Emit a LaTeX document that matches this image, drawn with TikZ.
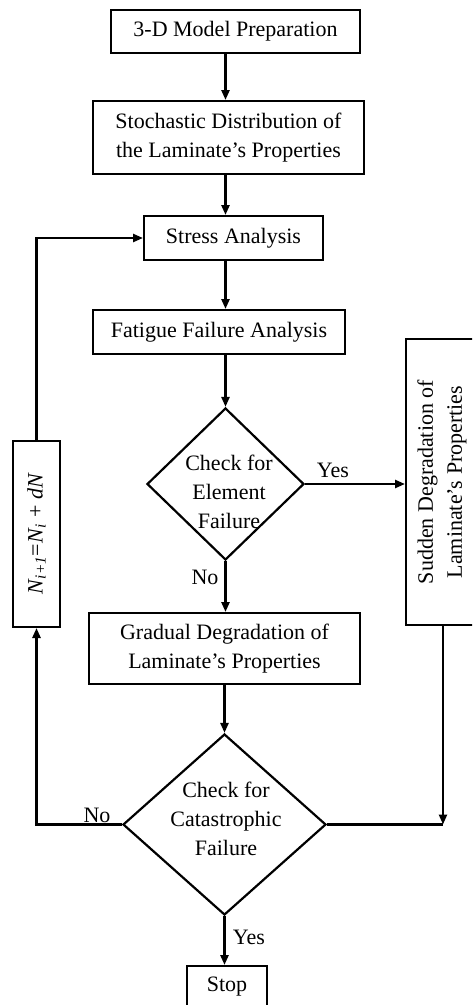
\documentclass[tikz,border=0pt]{standalone}
\usepackage{fontspec}
\setmainfont{Liberation Serif}
\usetikzlibrary{shapes.geometric,arrows.meta}
\begin{document}
\begin{tikzpicture}[x=1pt,y=-1pt,
  font=\fontsize{22}{29}\selectfont,
  box/.style={draw,line width=2pt,inner sep=0pt,align=center},
  dia/.style={draw,diamond,line width=2.2pt,inner sep=0pt},
  arr/.style={line width=2.4pt,-{Triangle[length=10pt,width=8pt]}},
  ln/.style={line width=2.4pt},
  lab/.style={inner sep=0pt}]
\useasboundingbox (0,0) rectangle (472,1005);
\clip (0,0) rectangle (472,1005);
\node[box,minimum width=249pt,minimum height=43pt] (b1) at (235.5,31.5) {3-D Model Preparation};
\node[box,minimum width=271pt,minimum height=73pt] (b2) at (228.5,137.5) {Stochastic Distribution of\\the Laminate's Properties};
\node[box,minimum width=179pt,minimum height=44pt] (b3) at (233.5,238) {Stress Analysis};
\node[box,minimum width=252pt,minimum height=44pt] (b4) at (219,332) {Fatigue Failure Analysis};
\node[dia,minimum width=157pt,minimum height=152pt] (d1) at (225.5,484) {};
\node[lab,align=center] (d1t) at (229,492) {Check for\\Element\\Failure};
\node[box,minimum width=72pt,minimum height=286pt] (s) at (442,482) {};
\node[lab,align=center,rotate=90] (st) at (s) {Sudden Degradation of\\Laminate's Properties};
\node[box,minimum width=271pt,minimum height=71pt] (b5) at (224.5,648.5) {Gradual Degradation of\\Laminate's Properties};
\node[dia,minimum width=203pt,minimum height=181pt] (d2) at (224.5,824.5) {};
\node[lab,align=center] (d2t) at (226,819) {Check for\\Catastrophic\\Failure};
\node[box,minimum width=80pt,minimum height=42pt] (stop) at (227,987) {Stop};
\node[box,minimum width=47pt,minimum height=186pt] (nb) at (36.5,534) {};
\node[lab,rotate=90] (nbt) at (nb) {\textit{N}\textsubscript{\textit{i+1}}=\textit{N}\textsubscript{\textit{i}} + \textit{dN}};
\coordinate (j) at ([xshift=1pt]s.south |- d2.east);
\draw[arr] (b1.south -| d1.north) -- (b2.north -| d1.north);
\draw[arr] (b2.south -| d1.north) -- (b3.north -| d1.north);
\draw[arr] (b3.south -| d1.north) -- (b4.north -| d1.north);
\draw[arr] (b4.south -| d1.north) -- (d1.north);
\draw[arr] (d1.east) -- (d1.east -| s.west);
\draw[arr] (d1.south) -- (b5.north -| d1.south);
\draw[arr] (b5.south -| d2.north) -- (d2.north);
\draw[arr] (d2.south) -- (stop.north -| d2.south);
\draw[arr] ([xshift=1pt]s.south) -- (j);
\draw[ln] (d2.east) -- (j);
\draw[arr] (d2.west) -- (nb.south |- d2.west) -- (nb.south);
\draw[arr] (nb.north) -- (nb.north |- b3.west) -- (b3.west);
\node[lab] (y1) at (333,470) {Yes};
\node[lab] (n1) at (205,577) {No};
\node[lab] (n2) at (97,815) {No};
\node[lab] (y2) at (249,937) {Yes};
\end{tikzpicture}
\end{document}
